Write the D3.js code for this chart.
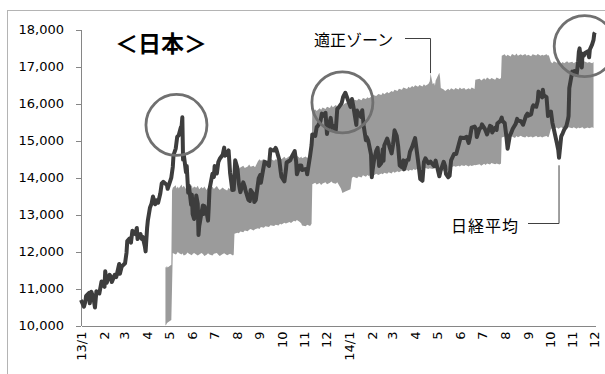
<!DOCTYPE html>
<html>
<head>
<meta charset="utf-8">
<script src="https://cdn.jsdelivr.net/npm/d3@7"></script>
<style>
body { margin: 0; background: #fff; }
svg { display: block; }
.axis text { font-family: 'DejaVu Sans', sans-serif; font-size: 13px; fill: #000; }
.axis path, .axis line { stroke: #868686; shape-rendering: crispEdges; }
.note { font-family: 'Noto Sans CJK JP', sans-serif; fill: #000; }
</style>
</head>
<body>
<script>
'use strict';

/** Nikkei 225 (about two points a week) */
var nikkeiDates = [
    '2013-01-04', '2013-01-08', '2013-01-10', '2013-01-11', '2013-01-15', '2013-01-16', '2013-01-18', '2013-01-21', '2013-01-23', '2013-01-25', '2013-01-29',
    '2013-02-01', '2013-02-05', '2013-02-06', '2013-02-08', '2013-02-12', '2013-02-14', '2013-02-15', '2013-02-19', '2013-02-21', '2013-02-25', '2013-02-26', '2013-02-28',
    '2013-03-01', '2013-03-05', '2013-03-07', '2013-03-08', '2013-03-11', '2013-03-13', '2013-03-15', '2013-03-19', '2013-03-21', '2013-03-22', '2013-03-26', '2013-03-28', '2013-03-29',
    '2013-04-01', '2013-04-02', '2013-04-04', '2013-04-05', '2013-04-08', '2013-04-10', '2013-04-12', '2013-04-15', '2013-04-17', '2013-04-19', '2013-04-22', '2013-04-24', '2013-04-26',
    '2013-05-01', '2013-05-02', '2013-05-07', '2013-05-09', '2013-05-10', '2013-05-13', '2013-05-15', '2013-05-17', '2013-05-20', '2013-05-21', '2013-05-22', '2013-05-23', '2013-05-24', '2013-05-27', '2013-05-28', '2013-05-30', '2013-05-31',
    '2013-06-03', '2013-06-04', '2013-06-05', '2013-06-07', '2013-06-10', '2013-06-12', '2013-06-13', '2013-06-14', '2013-06-17', '2013-06-19', '2013-06-20', '2013-06-21', '2013-06-24', '2013-06-26', '2013-06-27', '2013-06-28',
    '2013-07-02', '2013-07-04', '2013-07-05', '2013-07-08', '2013-07-10', '2013-07-12', '2013-07-16', '2013-07-18', '2013-07-19', '2013-07-22', '2013-07-24', '2013-07-26', '2013-07-29', '2013-07-31',
    '2013-08-02', '2013-08-05', '2013-08-07', '2013-08-09', '2013-08-13', '2013-08-15', '2013-08-16', '2013-08-20', '2013-08-22', '2013-08-23', '2013-08-27', '2013-08-28', '2013-08-30',
    '2013-09-03', '2013-09-05', '2013-09-06', '2013-09-09', '2013-09-11', '2013-09-13', '2013-09-17', '2013-09-19', '2013-09-20', '2013-09-24', '2013-09-26', '2013-09-27',
    '2013-10-01', '2013-10-03', '2013-10-04', '2013-10-08', '2013-10-10', '2013-10-11', '2013-10-16', '2013-10-18', '2013-10-22', '2013-10-24', '2013-10-25', '2013-10-29', '2013-10-31',
    '2013-11-01', '2013-11-05', '2013-11-07', '2013-11-08', '2013-11-12', '2013-11-14', '2013-11-15', '2013-11-19', '2013-11-21', '2013-11-22', '2013-11-26', '2013-11-28', '2013-11-29',
    '2013-12-03', '2013-12-05', '2013-12-06', '2013-12-10', '2013-12-12', '2013-12-13', '2013-12-17', '2013-12-19', '2013-12-20', '2013-12-25', '2013-12-27', '2013-12-30',
    '2014-01-06', '2014-01-08', '2014-01-10', '2014-01-14', '2014-01-15', '2014-01-17', '2014-01-20', '2014-01-22', '2014-01-24', '2014-01-27', '2014-01-28', '2014-01-30', '2014-01-31',
    '2014-02-03', '2014-02-04', '2014-02-05', '2014-02-07', '2014-02-10', '2014-02-12', '2014-02-14', '2014-02-17', '2014-02-19', '2014-02-20', '2014-02-21', '2014-02-25', '2014-02-27', '2014-02-28',
    '2014-03-03', '2014-03-05', '2014-03-07', '2014-03-10', '2014-03-12', '2014-03-14', '2014-03-17', '2014-03-19', '2014-03-20', '2014-03-24', '2014-03-26', '2014-03-28', '2014-03-31',
    '2014-04-02', '2014-04-04', '2014-04-07', '2014-04-09', '2014-04-11', '2014-04-14', '2014-04-16', '2014-04-18', '2014-04-22', '2014-04-24', '2014-04-25', '2014-04-30',
    '2014-05-02', '2014-05-07', '2014-05-09', '2014-05-13', '2014-05-15', '2014-05-16', '2014-05-19', '2014-05-21', '2014-05-23', '2014-05-27', '2014-05-30',
    '2014-06-03', '2014-06-05', '2014-06-06', '2014-06-10', '2014-06-13', '2014-06-16', '2014-06-18', '2014-06-20', '2014-06-24', '2014-06-26', '2014-06-27',
    '2014-07-01', '2014-07-03', '2014-07-04', '2014-07-08', '2014-07-10', '2014-07-11', '2014-07-15', '2014-07-17', '2014-07-18', '2014-07-22', '2014-07-24', '2014-07-25', '2014-07-29', '2014-07-31',
    '2014-08-01', '2014-08-04', '2014-08-06', '2014-08-08', '2014-08-11', '2014-08-13', '2014-08-15', '2014-08-19', '2014-08-21', '2014-08-22', '2014-08-26', '2014-08-28', '2014-08-29',
    '2014-09-02', '2014-09-04', '2014-09-05', '2014-09-09', '2014-09-11', '2014-09-12', '2014-09-16', '2014-09-18', '2014-09-19', '2014-09-22', '2014-09-24', '2014-09-25', '2014-09-26', '2014-09-30',
    '2014-10-02', '2014-10-03', '2014-10-06', '2014-10-08', '2014-10-10', '2014-10-14', '2014-10-16', '2014-10-17', '2014-10-20', '2014-10-22', '2014-10-24', '2014-10-27', '2014-10-29', '2014-10-30', '2014-10-31',
    '2014-11-04', '2014-11-06', '2014-11-07', '2014-11-10', '2014-11-12', '2014-11-13', '2014-11-14', '2014-11-17', '2014-11-18', '2014-11-20', '2014-11-21', '2014-11-25', '2014-11-27', '2014-11-28',
    '2014-12-01', '2014-12-03', '2014-12-04', '2014-12-05'
];
var nikkeiValues = [
    10688, 10508, 10652, 10801, 10879, 10600, 10913, 10747, 10487, 10926, 10866,
    11191, 11046, 11463, 11153, 11369, 11307, 11173, 11372, 11309, 11662, 11398, 11559,
    11606, 11683, 11968, 12283, 12349, 12239, 12560, 12468, 12635, 12338, 12471, 12336, 12397,
    12135, 12003, 12634, 12833, 13192, 13288, 13485, 13275, 13383, 13317, 13568, 13843, 13884,
    13799, 13694, 13999, 14285, 14607, 14782, 15096, 15138, 15360, 15381, 15627, 14484, 14612, 14142, 14311, 13589, 13774,
    13261, 13534, 13014, 12877, 13514, 13289, 12445, 12686, 13034, 13245, 13014, 13230, 13062, 12834, 13213, 13677,
    14098, 14018, 14309, 14109, 14416, 14506, 14615, 14808, 14589, 14658, 14731, 14129, 13662, 13668,
    14466, 14258, 13825, 13605, 13868, 13752, 13650, 13396, 13366, 13660, 13542, 13338, 13389,
    13978, 14065, 13861, 14205, 14425, 14404, 14311, 14766, 14742, 14732, 14799, 14760,
    14484, 14157, 14024, 13895, 14194, 14404, 14467, 14562, 14713, 14426, 14088, 14325, 14327,
    14201, 14225, 14228, 14086, 14589, 14876, 15165, 15126, 15365, 15381, 15515, 15727, 15661,
    15749, 15178, 15299, 15611, 15341, 15403, 15279, 15859, 15870, 16009, 16178, 16291,
    15908, 16121, 15912, 15422, 15808, 15734, 15641, 15820, 15391, 15005, 15094, 15007, 14914,
    14619, 14008, 14180, 14462, 14718, 14800, 14313, 14393, 14766, 14450, 14865, 15051, 14923, 14841,
    14652, 14897, 15274, 15120, 14830, 14327, 14277, 14463, 14224, 14475, 14477, 14696, 14828,
    14946, 15063, 14606, 14300, 13960, 13910, 14418, 14516, 14389, 14404, 14429, 14304,
    14457, 14033, 14199, 14425, 14299, 14097, 14006, 14043, 14462, 14636, 14632,
    14935, 15079, 15077, 15069, 15097, 14934, 15115, 15349, 15376, 15308, 15095,
    15326, 15349, 15437, 15314, 15216, 15164, 15395, 15370, 15215, 15343, 15284, 15457, 15529, 15621,
    15523, 15474, 15160, 14778, 15130, 15213, 15318, 15449, 15586, 15539, 15521, 15459, 15425,
    15668, 15728, 15669, 15705, 15909, 15948, 15911, 16067, 16321, 16205, 16167, 16374, 16229, 16173,
    15661, 15708, 15783, 15478, 15300, 14936, 14738, 14532, 15111, 15195, 15291, 15388, 15553, 15658, 16413,
    16862, 16792, 16880, 16781, 17124, 17392, 17490, 16973, 17344, 17300, 17357, 17407, 17248, 17459,
    17590, 17720, 17888, 17920
];

/** fair value zone: lower and upper edge, one line per month */
var zoneDates = [
    '2013-04-29', '2013-04-30',
    '2013-05-01', '2013-05-02', '2013-05-07', '2013-05-08', '2013-05-09', '2013-05-13', '2013-05-14', '2013-05-16', '2013-05-17', '2013-05-21', '2013-05-22', '2013-05-24', '2013-05-27', '2013-05-29', '2013-05-31',
    '2013-06-04', '2013-06-05', '2013-06-07', '2013-06-10', '2013-06-12', '2013-06-14', '2013-06-17', '2013-06-19', '2013-06-21', '2013-06-24', '2013-06-26', '2013-06-28',
    '2013-07-02', '2013-07-04', '2013-07-08', '2013-07-10', '2013-07-12', '2013-07-16', '2013-07-18', '2013-07-22', '2013-07-24', '2013-07-26', '2013-07-30', '2013-07-31',
    '2013-08-01', '2013-08-05', '2013-08-07', '2013-08-09', '2013-08-13', '2013-08-15', '2013-08-19', '2013-08-21', '2013-08-23', '2013-08-27', '2013-08-29',
    '2013-09-02', '2013-09-04', '2013-09-06', '2013-09-10', '2013-09-12', '2013-09-17', '2013-09-19', '2013-09-24', '2013-09-26', '2013-09-30',
    '2013-10-02', '2013-10-04', '2013-10-08', '2013-10-10', '2013-10-15', '2013-10-17', '2013-10-21', '2013-10-23', '2013-10-25', '2013-10-29', '2013-10-31',
    '2013-11-01', '2013-11-06', '2013-11-08', '2013-11-12', '2013-11-14', '2013-11-15', '2013-11-19', '2013-11-21', '2013-11-25', '2013-11-27', '2013-11-29',
    '2013-12-03', '2013-12-05', '2013-12-09', '2013-12-11', '2013-12-13', '2013-12-17', '2013-12-19', '2013-12-24', '2013-12-26', '2013-12-30',
    '2014-01-06', '2014-01-08', '2014-01-10', '2014-01-15', '2014-01-17', '2014-01-21', '2014-01-23', '2014-01-27', '2014-01-29', '2014-01-31',
    '2014-02-04', '2014-02-06', '2014-02-10', '2014-02-13', '2014-02-17', '2014-02-19', '2014-02-21', '2014-02-25', '2014-02-27',
    '2014-03-03', '2014-03-05', '2014-03-07', '2014-03-11', '2014-03-13', '2014-03-17', '2014-03-19', '2014-03-24', '2014-03-26', '2014-03-28', '2014-03-31',
    '2014-04-02', '2014-04-04', '2014-04-08', '2014-04-10', '2014-04-14', '2014-04-16', '2014-04-18', '2014-04-22', '2014-04-24', '2014-04-25', '2014-04-28', '2014-04-30',
    '2014-05-01', '2014-05-02', '2014-05-07', '2014-05-08', '2014-05-09', '2014-05-13', '2014-05-15', '2014-05-19', '2014-05-21', '2014-05-23', '2014-05-27', '2014-05-29',
    '2014-06-02', '2014-06-04', '2014-06-06', '2014-06-10', '2014-06-12', '2014-06-16', '2014-06-18', '2014-06-20', '2014-06-24', '2014-06-25',
    '2014-07-01', '2014-07-03', '2014-07-07', '2014-07-09', '2014-07-11', '2014-07-15', '2014-07-17', '2014-07-22', '2014-07-24', '2014-07-28', '2014-07-30', '2014-07-31',
    '2014-08-04', '2014-08-06', '2014-08-08', '2014-08-12', '2014-08-14', '2014-08-18', '2014-08-20', '2014-08-22', '2014-08-26', '2014-08-28',
    '2014-09-01', '2014-09-03', '2014-09-05', '2014-09-09', '2014-09-11', '2014-09-16', '2014-09-18', '2014-09-22', '2014-09-24', '2014-09-26', '2014-09-30',
    '2014-10-02', '2014-10-03', '2014-10-06', '2014-10-08', '2014-10-10', '2014-10-14', '2014-10-16', '2014-10-20', '2014-10-22', '2014-10-24', '2014-10-28', '2014-10-30',
    '2014-11-04', '2014-11-06', '2014-11-10', '2014-11-12', '2014-11-14', '2014-11-18', '2014-11-20', '2014-11-25', '2014-11-27',
    '2014-12-01', '2014-12-03'
];
var zoneLower = [
    10000, 10020,
    10060, 10080, 10150, 11050, 11960, 11920, 11930, 11990, 11960, 11920, 11950, 11890, 11920, 11970, 11940,
    11900, 11930, 11960, 11920, 11890, 11920, 11960, 11930, 11880, 11910, 11950, 11920,
    11890, 11940, 11960, 11910, 11880, 11930, 11950, 11900, 11920, 11940, 11890, 11920,
    12480, 12510, 12490, 12540, 12520, 12570, 12550, 12590, 12610, 12570, 12600,
    12630, 12610, 12660, 12640, 12680, 12660, 12710, 12690, 12720, 12700,
    12750, 12730, 12780, 12760, 12800, 12770, 12830, 12810, 12850, 12800, 12760,
    12700, 12680, 12720, 12690, 12750, 13820, 13860, 13810, 13850, 13800, 13840,
    13870, 13820, 13860, 13890, 13850, 13830, 13870, 13700, 13580, 13620,
    13680, 13990, 14020, 13980, 14030, 14000, 14060, 14020, 14070, 14040,
    14080, 14050, 14100, 14070, 14110, 14090, 14130, 14100, 14140,
    14110, 14160, 14130, 14170, 14140, 14190, 14160, 14200, 14170, 14210, 14190,
    14230, 14200, 14240, 14210, 14250, 14220, 14260, 14230, 14250, 14240, 14230, 14260,
    14250, 14270, 14260, 14240, 14250, 14160, 14200, 14180, 14290, 14270, 14310, 14290,
    14320, 14300, 14330, 14310, 14340, 14300, 14330, 14310, 14340, 14330,
    14360, 14320, 14370, 14340, 14380, 14350, 14390, 14360, 14380, 14350, 14380, 15080,
    15110, 15080, 15120, 15090, 15110, 15070, 15120, 15090, 15130, 15100,
    15080, 15120, 15090, 15110, 15080, 15120, 15090, 15110, 15080, 15100, 15120,
    15090, 15100, 15310, 15340, 15320, 15350, 15320, 15360, 15330, 15350, 15320, 15360,
    15330, 15360, 15320, 15350, 15330, 15360, 15320, 15350, 15330,
    15360, 15340
];
var zoneUpper = [
    11580, 11560,
    11610, 11570, 11640, 13650, 13720, 13790, 13700, 13760, 13700, 13810, 13730, 13780, 13690, 13760, 13720,
    13790, 13700, 13760, 13720, 13780, 13680, 13740, 13700, 13760, 13660, 13720, 13680,
    13750, 13690, 13770, 13700, 13660, 13730, 13690, 13650, 13720, 13680, 13700, 13660,
    14240, 14290, 14230, 14270, 14320, 14260, 14300, 14350, 14290, 14320, 14280,
    14440, 14490, 14450, 14500, 14430, 14480, 14510, 14450, 14490, 14470,
    14530, 14490, 14560, 14510, 14580, 14530, 14600, 14550, 14590, 14530, 14570,
    14520, 14570, 14530, 14600, 14560, 15780, 15840, 15800, 15870, 15830, 15890,
    15850, 15910, 15880, 15950, 15900, 15960, 15920, 15980, 15950, 16010,
    16060, 16040, 16110, 16080, 16130, 16090, 16150, 16120, 16170, 16140,
    16190, 16230, 16200, 16260, 16230, 16290, 16250, 16310, 16280,
    16340, 16310, 16370, 16340, 16400, 16370, 16430, 16390, 16450, 16420, 16470,
    16440, 16490, 16450, 16500, 16460, 16520, 16480, 16530, 16600, 16820, 16520, 16560,
    16480, 16620, 16830, 16700, 16420, 16380, 16340, 16400, 16360, 16410, 16370, 16420,
    16380, 16430, 16390, 16420, 16370, 16410, 16380, 16430, 16390, 16640,
    16670, 16620, 16680, 16640, 16700, 16650, 16690, 16640, 16700, 16660, 16690, 17290,
    17330, 17280, 17320, 17270, 17340, 17300, 17350, 17290, 17330, 17300,
    17340, 17290, 17320, 17280, 17330, 17300, 17340, 17290, 17320, 17300, 17330,
    17290, 17310, 17120, 17090, 17140, 17100, 17130, 17080, 17120, 17090, 17140, 17100,
    17130, 17090, 17140, 17100, 17130, 17090, 17140, 17100, 17120,
    17090, 17120
];

var monthLabels = ['13/1', '2', '3', '4', '5', '6', '7', '8', '9', '10', '11', '12',
    '14/1', '2', '3', '4', '5', '6', '7', '8', '9', '10', '11', '12'];
var yTicks = [10000, 11000, 12000, 13000, 14000, 15000, 16000, 17000, 18000];

/** peaks that are circled */
var circleDates = ['2013-05-14', '2013-12-26', '2014-11-21'];
var circleValues = [15420, 16030, 17550];

var w = 605,
    h = 374;

var parse = d3.timeParse('%Y-%m-%d');

var line = nikkeiDates.map(function(d, i) {
    return { date: parse(d), value: nikkeiValues[i] };
});
var zone = zoneDates.map(function(d, i) {
    return { date: parse(d), lo: zoneLower[i], hi: zoneUpper[i] };
});

var start = parse('2013-01-04');
var tickDates = monthLabels.map(function(l, i) {
    return d3.timeMonth.offset(start, i);
});

var x = d3.scaleTime()
    .domain([start, parse('2014-12-05')])
    .range([81, 595]);
var y = d3.scaleLinear()
    .domain([10000, 18000])
    .range([325.5, 29.5]);

var svg = d3.select('body')
    .append('svg')
    .attr('width', w)
    .attr('height', h);

// chart frame, cut off at the right and bottom
svg.append('rect')
    .attr('x', 7.5)
    .attr('y', 10.5)
    .attr('width', 640)
    .attr('height', 400)
    .attr('fill', 'none')
    .attr('stroke', '#b4b4b4');

svg.append('path')
    .datum(zone)
    .attr('fill', '#9b9b9b')
    .attr('d', d3.area()
        .x(function(d) { return x(d.date); })
        .y0(function(d) { return y(d.lo); })
        .y1(function(d) { return y(d.hi); }));

svg.append('g')
    .attr('class', 'axis')
    .attr('transform', 'translate(81,0)')
    .call(d3.axisLeft(y)
        .tickValues(yTicks)
        .tickFormat(d3.format(','))
        .tickSizeInner(5)
        .tickSizeOuter(0)
        .tickPadding(12));

var xAxis = svg.append('g')
    .attr('class', 'axis')
    .attr('transform', 'translate(0,' + y(10000) + ')')
    .call(d3.axisBottom(x)
        .tickValues(tickDates)
        .tickFormat(function(d, i) { return monthLabels[i]; })
        .tickSize(0)
        .tickSizeOuter(0));

xAxis.selectAll('text')
    .attr('transform', 'rotate(-90)')
    .attr('text-anchor', 'end')
    .attr('x', -6)
    .attr('y', 0)
    .attr('dy', '0.35em');

svg.append('path')
    .datum(line)
    .attr('fill', 'none')
    .attr('stroke', '#3d3d3d')
    .attr('stroke-width', 4)
    .attr('stroke-linejoin', 'round')
    .attr('d', d3.line()
        .x(function(d) { return x(d.date); })
        .y(function(d) { return y(d.value); }));

svg.selectAll('circle.peak')
    .data(circleDates)
    .enter()
    .append('circle')
    .attr('class', 'peak')
    .attr('cx', function(d) { return x(parse(d)); })
    .attr('cy', function(d, i) { return y(circleValues[i]); })
    .attr('r', 30.5)
    .attr('fill', 'none')
    .attr('stroke', '#707070')
    .attr('stroke-width', 2.8);

/** title and labels */
svg.append('text')
    .attr('class', 'note')
    .attr('x', 161)
    .attr('y', 52)
    .attr('text-anchor', 'middle')
    .attr('font-size', 23)
    .attr('font-weight', 'bold')
    .text('＜日本＞');

var zoneTip = [x(parse('2014-04-25')), y(16820)];
svg.append('text')
    .attr('class', 'note')
    .attr('x', 314)
    .attr('y', 45.5)
    .attr('font-size', 16)
    .text('適正ゾーン');
svg.append('polyline')
    .attr('points', [[405, 38.5], [zoneTip[0], 38.5], zoneTip].join(' '))
    .attr('fill', 'none')
    .attr('stroke', '#404040')
    .attr('stroke-width', 1);

var lineTip = [x(parse('2014-10-17')), y(14330)];
svg.append('text')
    .attr('class', 'note')
    .attr('x', 519)
    .attr('y', 232)
    .attr('text-anchor', 'end')
    .attr('font-size', 16)
    .attr('letter-spacing', 1)
    .text('日経平均');
svg.append('polyline')
    .attr('points', [[528, 223.5], [lineTip[0], 223.5], lineTip].join(' '))
    .attr('fill', 'none')
    .attr('stroke', '#404040')
    .attr('stroke-width', 1);
</script>
</body>
</html>
